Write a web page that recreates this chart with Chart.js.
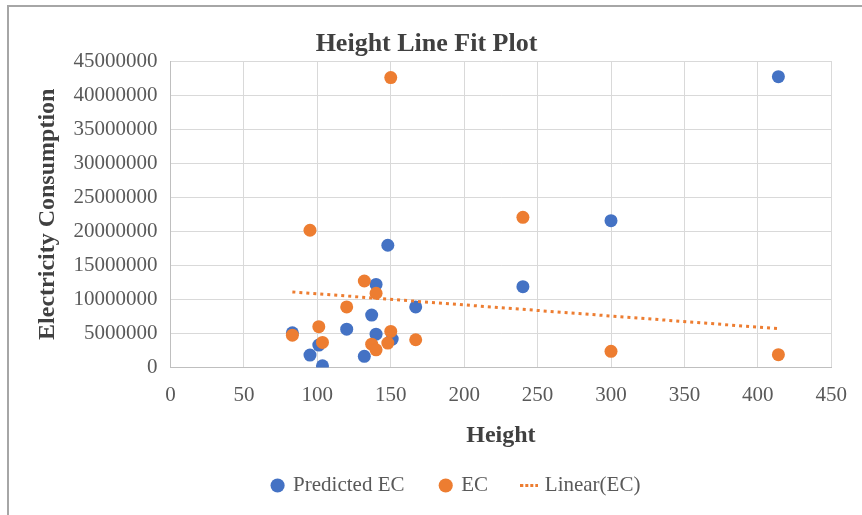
<!DOCTYPE html>
<html>
<head>
<meta charset="utf-8">
<script src="https://cdn.jsdelivr.net/npm/chart.js@4/dist/chart.umd.min.js"></script>
<style>
  html, body { margin: 0; padding: 0; background: #ffffff; overflow: hidden; }
  #wrap { position: relative; width: 862px; height: 515px; }
  #frame { position: absolute; left: 7px; top: 5px; width: 900px; height: 600px; border: 2px solid #a6a6a6; box-sizing: border-box; pointer-events: none; }
  canvas { position: absolute; left: 0; top: 0; }
</style>
</head>
<body>
<div id="wrap">
  <canvas id="c" width="862" height="515"></canvas>
  <div id="frame"></div>
</div>
<script>
// ---- data ----
const predHeights = [83, 95, 101, 103.5, 120, 132, 137, 140, 140, 148, 151, 167, 240, 300, 414];
const predictedEC = [5100000, 1830000, 3290000, 260000, 5630000, 1640000, 7700000, 12200000, 4900000, 17950000, 4170000, 8900000, 11870000, 21560000, 42700000];
const ecHeights   = [83, 95, 101, 103.5, 120, 132, 137, 140, 140, 148, 150, 150, 167, 240, 300, 414];
const ecValues    = [4750000, 20150000, 6000000, 3680000, 8900000, 12700000, 3430000, 10900000, 2600000, 3580000, 42570000, 5300000, 4070000, 22050000, 2370000, 1880000];
const trendHeights = [83, 414];
const trendValues  = [11100000, 5700000];
const seriesNames = ['Predicted EC', 'EC', 'Linear(EC)'];
const xTicks = [0, 50, 100, 150, 200, 250, 300, 350, 400, 450];
const yTicks = [0, 5000000, 10000000, 15000000, 20000000, 25000000, 30000000, 35000000, 40000000, 45000000];

const BLUE = '#4472C4', ORANGE = '#ED7D31';
const pts = (xs, ys) => xs.map((x, i) => ({ x: x, y: ys[i] }));
const serif = "'Liberation Serif', 'Times New Roman', serif";
const LEG_DX = 30, LEG_DY = 2;

// dotted swatch used as the legend symbol of the trend line
const dotSwatch = document.createElement('canvas');
dotSwatch.width = 18; dotSwatch.height = 3;
(function () {
  const g = dotSwatch.getContext('2d');
  g.fillStyle = ORANGE;
  for (let i = 0; i < 4; i++) g.fillRect(i * 5, 0, 3, 3);
})();

const legendShift = {
  id: 'legendShift',
  afterLayout(chart) {
    const lg = chart.legend;
    if (lg) { lg.left += LEG_DX; lg.right += LEG_DX; lg.top += LEG_DY; lg.bottom += LEG_DY; }
  }
};

new Chart(document.getElementById('c'), {
  type: 'scatter',
  data: {
    datasets: [
      { label: seriesNames[0], data: pts(predHeights, predictedEC), backgroundColor: BLUE, borderColor: BLUE, borderWidth: 0, pointRadius: 6.5, pointHoverRadius: 6.5, order: 3 },
      { label: seriesNames[1], data: pts(ecHeights, ecValues), backgroundColor: ORANGE, borderColor: ORANGE, borderWidth: 0, pointRadius: 6.5, pointHoverRadius: 6.5, order: 2 },
      { label: seriesNames[2], type: 'line', data: pts(trendHeights, trendValues), showLine: true, borderColor: ORANGE, backgroundColor: ORANGE, borderWidth: 3, borderDash: [3, 4], pointRadius: 0, fill: false, order: 1 }
    ]
  },
  options: {
    responsive: false,
    animation: false,
    events: [],
    layout: { padding: { left: 20, right: 29, top: 0, bottom: 11 } },
    plugins: {
      title: {
        display: true, text: 'Height Line Fit Plot', color: '#404040',
        font: { family: serif, size: 26, weight: 'bold', lineHeight: 1.0 },
        padding: { top: 31, bottom: 4 }
      },
      legend: {
        position: 'bottom',
        labels: {
          usePointStyle: true, boxWidth: 10, boxHeight: 10, padding: 10,
          color: '#595959', font: { family: serif, size: 21 },
          sort: (a, b) => a.datasetIndex - b.datasetIndex,
          generateLabels(chart) {
            const items = Chart.defaults.plugins.legend.labels.generateLabels(chart);
            items.forEach(it => {
              if (it.datasetIndex === 2) { it.pointStyle = dotSwatch; it.lineDash = []; }
              else { it.pointStyle = 'circle'; it.text = it.text + '     '; }
            });
            return items;
          }
        }
      },
      tooltip: { enabled: false }
    },
    scales: {
      x: {
        type: 'linear', min: 0, max: 450,
        afterBuildTicks: s => { s.ticks = xTicks.map(v => ({ value: v })); },
        afterFit: s => { s.height = 95.5; },
        grid: { color: '#d9d9d9', drawTicks: false },
        border: { color: '#bfbfbf' },
        ticks: { padding: 15, color: '#595959', font: { family: serif, size: 21, lineHeight: 1.2 }, maxRotation: 0 },
        title: { display: true, text: 'Height', color: '#404040', font: { family: serif, size: 24, weight: 'bold', lineHeight: 1.2 }, padding: { top: 4, bottom: 12.6 } }
      },
      y: {
        type: 'linear', min: 0, max: 45000000,
        afterBuildTicks: s => { s.ticks = yTicks.map(v => ({ value: v })); },
        afterFit: s => { s.width = 150.5; },
        grid: { color: '#d9d9d9', drawTicks: false },
        border: { color: '#bfbfbf' },
        ticks: { padding: 13, color: '#595959', font: { family: serif, size: 21 }, callback: v => String(v) },
        title: { display: true, text: 'Electricity Consumption', color: '#404040', font: { family: serif, size: 24, weight: 'bold', lineHeight: 1.2 }, padding: { top: 13.6, bottom: 0 } }
      }
    }
  },
  plugins: [legendShift]
});
</script>
</body>
</html>
